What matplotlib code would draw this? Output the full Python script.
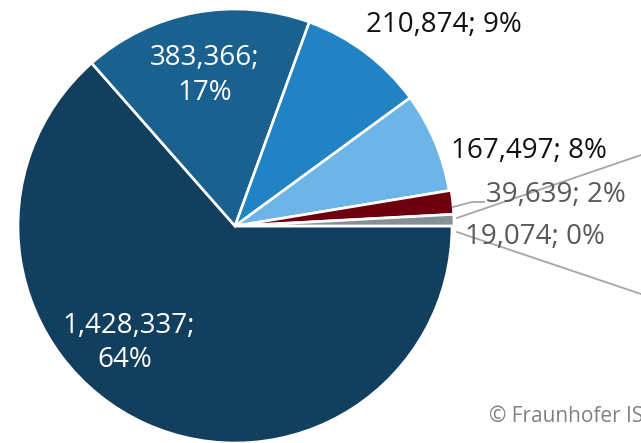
import matplotlib
matplotlib.use("Agg")
import matplotlib.pyplot as plt

# data
values = [1428337, 383366, 210874, 167497, 39639, 19074]
pcts = ["64%", "17%", "9%", "8%", "2%", "0%"]
colors = ["#133f5e", "#1b6190", "#2283c4", "#6cb5e6", "#6e0010", "#859094"]

W, H = 641, 443
plt.rcParams['font.family'] = ['Open Sans', 'DejaVu Sans']

fig = plt.figure(figsize=(W / 100, H / 100), dpi=100)
ax = fig.add_axes([0, 0, 1, 1])

def py(y):
    # pixel row -> data y
    return H - y

cx, cy, r = 235, py(226), 217
ax.pie(values, colors=colors, startangle=0, counterclock=False,
       center=(cx, cy), radius=r, explode=[0, 0, 0, 0, 2, 2],
       wedgeprops=dict(edgecolor="white", linewidth=1.9), frame=True)

# connector lines (pie of pie) and leader line
lc = "#a6a6a6"
ax.plot([457, 641], [py(218), py(155)], color=lc, lw=1.3)
ax.plot([457, 641], [py(232), py(294)], color=lc, lw=1.3)
ax.plot([453, 472, 484], [py(207), py(202), py(202)], color=lc, lw=1.3)

fs = 20
nums = [f"{v:,};" for v in values]
# white labels inside the two big slices
ax.text(129, py(333), nums[0], color="white", fontsize=fs, ha="center", va="baseline")
ax.text(125, py(367), pcts[0], color="white", fontsize=fs, ha="center", va="baseline")
ax.text(205, py(65), nums[1], color="white", fontsize=fs, ha="center", va="baseline")
ax.text(205, py(100), pcts[1], color="white", fontsize=fs, ha="center", va="baseline")
# outside labels
ax.text(366, py(32), nums[2] + " " + pcts[2], color="#111111", fontsize=fs,
        ha="left", va="baseline")
ax.text(451, py(158), nums[3] + " " + pcts[3], color="#111111", fontsize=fs,
        ha="left", va="baseline")
ax.text(486, py(202), nums[4] + " " + pcts[4], color="#595959", fontsize=fs,
        ha="left", va="baseline")
ax.text(465, py(244), nums[5] + " " + pcts[5], color="#595959", fontsize=fs,
        ha="left", va="baseline")

ax.text(489, py(422), "© Fraunhofer ISE", color="#808080", fontsize=15,
        ha="left", va="baseline", clip_on=False)

ax.set_xlim(0, W)
ax.set_ylim(0, H)
ax.set_aspect("auto")
ax.axis("off")

fig.savefig("out.png", dpi=100)
